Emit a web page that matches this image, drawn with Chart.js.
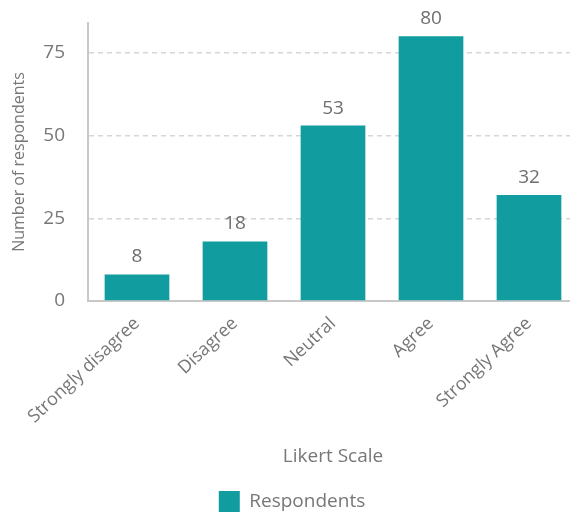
<!DOCTYPE html>
<html>
<head>
<meta charset="utf-8">
<script src="https://cdn.jsdelivr.net/npm/chart.js@4"></script>
<style>
html,body{margin:0;padding:0;background:#fff;overflow:hidden;}
#wrap{width:578px;height:514px;position:relative;}
</style>
</head>
<body>
<div id="wrap"><canvas id="c"></canvas></div>
<script>
const categories = ["Strongly disagree", "Disagree", "Neutral", "Agree", "Strongly Agree"];
const respondents = [8, 18, 53, 80, 32];
const yTicks = [0, 25, 50, 75];
const seriesName = "Respondents";
const xTitle = "Likert Scale";
const yTitle = "Number of respondents";

const teal = "#119c9f";
const textGray = "#777777";
const FONT = "'Open Sans'";

const valueLabels = {
  id: "valueLabels",
  afterDatasetsDraw(chart) {
    const ctx = chart.ctx;
    const meta = chart.getDatasetMeta(0);
    ctx.save();
    ctx.font = "19px " + FONT;
    ctx.fillStyle = "#6e6e6e";
    ctx.textAlign = "center";
    ctx.textBaseline = "bottom";
    meta.data.forEach((bar, i) => {
      ctx.fillText(String(chart.data.datasets[0].data[i]), bar.x, bar.y - 8);
    });
    ctx.restore();
  }
};

new Chart(document.getElementById("c"), {
  type: "bar",
  data: {
    labels: categories,
    datasets: [{
      label: seriesName,
      data: respondents,
      backgroundColor: teal,
      borderWidth: 0,
      barPercentage: 0.66,
      categoryPercentage: 1.0
    }]
  },
  options: {
    responsive: true,
    maintainAspectRatio: false,
    animation: false,
    layout: { padding: { top: 23, right: 0, left: 6, bottom: -8 } },
    plugins: {
      legend: {
        position: "bottom",
        labels: {
          font: { family: FONT, size: 19 },
          color: textGray,
          boxWidth: 21,
          boxHeight: 21,
          padding: 4
        }
      },
      tooltip: { enabled: false }
    },
    scales: {
      x: {
        grid: { display: false, drawTicks: false },
        border: { display: true, color: "#c8c8c8", width: 2 },
        ticks: {
          color: textGray,
          font: { family: FONT, size: 18 },
          minRotation: 43,
          maxRotation: 43,
          padding: 12
        },
        title: {
          display: true,
          text: xTitle,
          color: textGray,
          font: { family: FONT, size: 19 },
          padding: { top: 10, bottom: 19 }
        },
        afterFit(scale) { scale.height = 186; }
      },
      y: {
        min: 0,
        max: 84,
        grid: {
          color: "#d6d6d6",
          lineWidth: 1.5,
          drawTicks: false
        },
        border: { display: true, color: "#c8c8c8", width: 2, dash: [5, 4] },
        ticks: {
          color: textGray,
          font: { family: FONT, size: 19 },
          padding: 23
        },
        afterBuildTicks(scale) {
          scale.ticks = yTicks.map(v => ({ value: v }));
        },
        title: {
          display: true,
          text: yTitle,
          color: textGray,
          font: { family: FONT, size: 16 },
          padding: { top: 4, bottom: 8 }
        },
        afterFit(scale) {
          scale.width = 82;
          scale.paddingTop = 0;
          scale.paddingBottom = 0;
        }
      }
    }
  },
  plugins: [valueLabels]
});
</script>
</body>
</html>
